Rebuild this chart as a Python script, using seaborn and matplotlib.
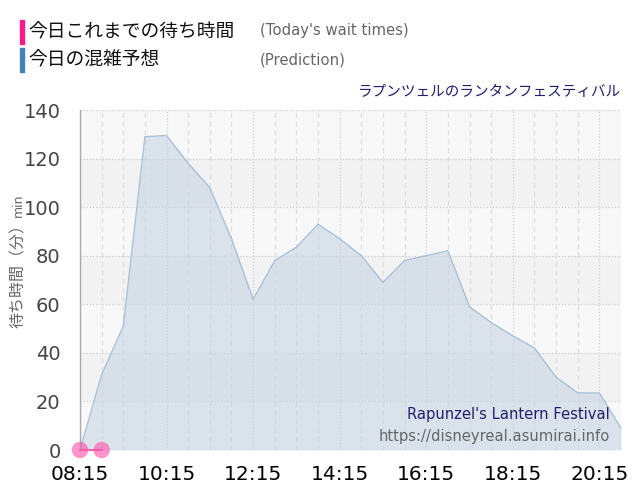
import matplotlib
matplotlib.use("Agg")
import matplotlib.pyplot as plt
import seaborn as sns
import numpy as np
import pandas as pd

# prediction (every 30 min) and today's actual wait times
pred_times = ["08:15", "08:45", "09:15", "09:45", "10:15", "10:45", "11:15", "11:45",
              "12:15", "12:45", "13:15", "13:45", "14:15", "14:45", "15:15", "15:45",
              "16:15", "16:45", "17:15", "17:45", "18:15", "18:45", "19:15", "19:45",
              "20:15", "20:45"]
pred_values = [0, 31, 51, 129, 129.5, 118, 108, 87,
               62, 78, 83.5, 93, 87, 80, 69, 78,
               80, 82, 59, 52.5, 47, 42, 30, 23.5,
               23.5, 9]
actual_times = ["08:15", "08:45"]
actual_values = [0, 0]

tick_labels = ["08:15", "10:15", "12:15", "14:15", "16:15", "18:15", "20:15"]
y_ticks = [0, 20, 40, 60, 80, 100, 120, 140]

JP = ["Noto Sans CJK JP", "DejaVu Sans"]


def to_min(t):
    h, m = t.split(":")
    return int(h) * 60 + int(m)


pred = pd.DataFrame({"t": [to_min(t) for t in pred_times], "wait": pred_values})
actual = pd.DataFrame({"t": [to_min(t) for t in actual_times], "wait": actual_values})

sns.set_style("white")
plt.rcParams["font.family"] = ["DejaVu Sans", "Noto Sans CJK JP"]

fig = plt.figure(figsize=(6.4, 5), dpi=100)
ax = fig.add_axes([80 / 640, 50 / 500, 541 / 640, 340 / 500])

x0, x1 = to_min("08:15"), to_min("20:45")

# alternating background bands
for i, lo in enumerate(range(0, 140, 20)):
    ax.axhspan(lo, lo + 20, color="#f8f8f8" if i % 2 == 0 else "#f2f2f2", zorder=0, lw=0)

# grid
for y in y_ticks[1:]:
    ax.axhline(y, color="#cccccc", lw=0.9, ls=(0, (1, 1.5)), zorder=1)
for t in range(x0, x1 + 1, 30):
    if (t - x0) % 120 == 0:
        ax.axvline(t, color="#cfcfcf", lw=0.9, ls=(0, (1, 1.5)), zorder=1)
    else:
        ax.axvline(t, color="#dddddd", lw=0.9, ls=(0, (4, 3)), zorder=1)

# prediction area
ax.fill_between(pred["t"], pred["wait"], 0, color="#c6d5e4", alpha=0.6, lw=0, zorder=2)
sns.lineplot(data=pred, x="t", y="wait", ax=ax, color="#a9c1d8", lw=1, zorder=3)

# today's wait times
sns.lineplot(data=actual, x="t", y="wait", ax=ax, color="#f06bb5", lw=1.5, zorder=4,
             clip_on=False)
sns.scatterplot(data=actual, x="t", y="wait", ax=ax, color="#ff4fa8", alpha=0.6,
                s=140, edgecolor="none", zorder=5, clip_on=False)

ax.set_xlim(x0, x1)
ax.set_ylim(0, 140)
ax.set_xticks([to_min(t) for t in tick_labels])
ax.set_xticklabels(tick_labels, fontsize=14.5, color="#000000")
ax.set_yticks(y_ticks)
ax.set_yticklabels([str(v) for v in y_ticks], fontsize=14, color="#444444")
ax.tick_params(axis="x", length=8, width=1, color="#dddddd", pad=3)
ax.tick_params(axis="y", length=12, width=1, color="#e4e4e4", pad=2)
ax.set_xlabel("")
ax.set_ylabel("")

for s in ["top", "right", "bottom"]:
    ax.spines[s].set_visible(False)
ax.spines["left"].set_color("#aaaaaa")
ax.spines["left"].set_linewidth(1)

# y label
fig.text(18 / 640, 1 - 272 / 500, "待ち時間（分）", rotation=90, ha="center", va="center",
         fontsize=11.5, color="#666666", family=JP)
fig.text(18 / 640, 1 - 205 / 500, "min", rotation=90, ha="center", va="center",
         fontsize=9, color="#666666")

# legend
fig.patches.append(plt.Rectangle((20 / 640, 1 - 44 / 500), 4 / 640, 24 / 500,
                                 transform=fig.transFigure, color="#ff1a8c", figure=fig))
fig.patches.append(plt.Rectangle((20 / 640, 1 - 72 / 500), 4 / 640, 24 / 500,
                                 transform=fig.transFigure, color="#4682b4", figure=fig))
fig.text(28 / 640, 1 - 32 / 500, "今日これまでの待ち時間", ha="left", va="center",
         fontsize=13.5, color="#111111", family=JP)
fig.text(28 / 640, 1 - 60 / 500, "今日の混雑予想", ha="left", va="center",
         fontsize=13.5, color="#111111", family=JP)
fig.text(260 / 640, 1 - 31 / 500, "(Today's wait times)", ha="left", va="center",
         fontsize=10.7, color="#666666")
fig.text(260 / 640, 1 - 60 / 500, "(Prediction)", ha="left", va="center",
         fontsize=10.7, color="#666666")

fig.text(621 / 640, 1 - 92 / 500, "ラプンツェルのランタンフェスティバル", ha="right", va="center",
         fontsize=10.5, color="#1f1f6b", family=JP)

ax.text(0.98, 0.103, "Rapunzel's Lantern Festival", transform=ax.transAxes,
        ha="right", va="center", fontsize=10.6, color="#1f1f6b", zorder=6)
ax.text(0.98, 0.041, "https://disneyreal.asumirai.info", transform=ax.transAxes,
        ha="right", va="center", fontsize=10.6, color="#666666", zorder=6)

fig.savefig("out.png", dpi=100)
